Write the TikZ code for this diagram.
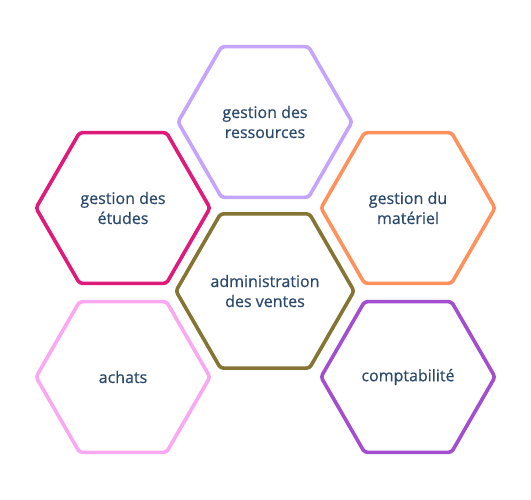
\documentclass[tikz,border=0pt]{standalone}
\usepackage{fontspec}
\setmainfont{Open Sans}[FakeBold=0.6]
\usetikzlibrary{shapes.geometric}

\definecolor{ink}{HTML}{2B4A6B}
\definecolor{lavender}{HTML}{C4A4FC}
\definecolor{magenta}{HTML}{E01A7B}
\definecolor{apricot}{HTML}{FF915C}
\definecolor{olive}{HTML}{857433}
\definecolor{pinkish}{HTML}{FAA8F1}
\definecolor{violet}{HTML}{A34ECE}

\begin{document}
\begin{tikzpicture}[
        x=1pt, y=-1pt,
        hexa/.style={regular polygon, regular polygon sides=6,
            minimum size=174pt, inner sep=0pt,
            line width=3.6pt, rounded corners=3pt, align=center,
            text=ink, font=\fontsize{16}{20}\selectfont},
    ]
    \useasboundingbox (0,0) rectangle (531,500);

    %% centre column
    \node[hexa, draw=lavender] (ressources) at (265,122) {gestion des\\ressources};
    \node[hexa, draw=olive] (ventes) at (265,291) {administration\\des ventes};

    %% left column
    \node[hexa, draw=magenta] (etudes) at (123,208) {gestion des\\études};
    \node[hexa, draw=pinkish] (achats) at (123,377) {achats};

    %% right column
    \node[hexa, draw=apricot] (materiel) at (408,208) {gestion du\\matériel};
    \node[hexa, draw=violet] (compta) at (408,377) {comptabilité};
\end{tikzpicture}
\end{document}
